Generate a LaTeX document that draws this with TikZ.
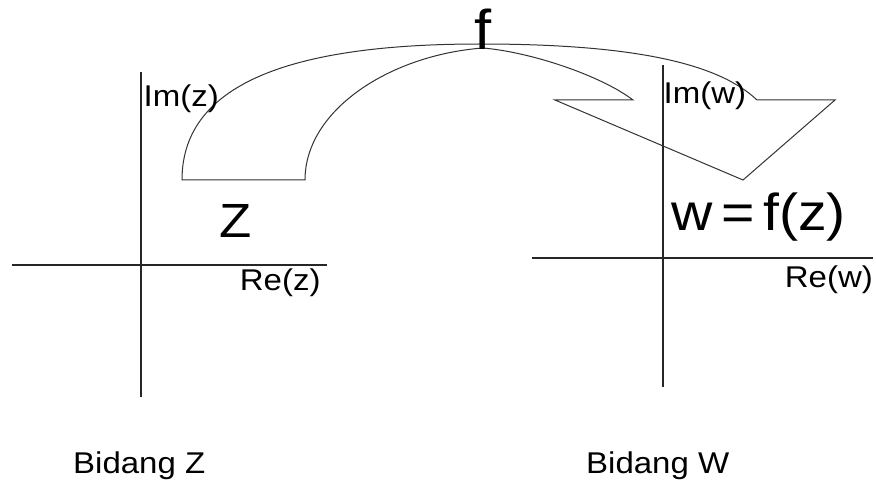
\documentclass[tikz,border=0pt]{standalone}
\usepackage{fontspec}
\setmainfont{Liberation Sans}[FakeStretch=1.1]
\begin{document}
\begin{tikzpicture}[x=1pt,y=-1pt,
  axis/.style={line width=1.1pt,draw=black!85},
  shapeline/.style={line width=1pt,draw=black!80,line join=miter},
  lbl/.style={inner sep=0pt,anchor=base west,font=\fontsize{30}{32}\selectfont},
  bigtxt/.style={inner sep=0pt,anchor=base west},
  captxt/.style={inner sep=0pt,anchor=base west,font=\fontsize{30}{32}\selectfont}]
\path[use as bounding box,fill=white] (0,0) rectangle (876,484);
% axes of the Z plane
\draw[axis] (12,265) -- (327,265);
\draw[axis] (141,72) -- (141,397);
% axes of the W plane
\draw[axis] (532,258) -- (873,258);
\draw[axis] (663,65) -- (663,387);
% curved mapping arrow
\draw[shapeline] (182,180) -- (305,180)
  .. controls (305,110) and (390,55) .. (483,48)
  .. controls (530,52) and (600,75) .. (633,100)
  -- (555,100) -- (743,180) -- (835,100) -- (757,100)
  .. controls (720,65) and (640,44) .. (480,44)
  .. controls (300,44) and (182,80) .. (182,180) -- cycle;
% labels
\node[lbl] (imz) at (143.5,107) {Im(z)};
\node[lbl] (rez) at (239.7,290) {Re(z)};
\node[lbl] (imw) at (663.5,104) {Im(w)};
\node[lbl] (rew) at (784.7,287) {Re(w)};
\node[bigtxt,font=\fontsize{48}{52}\selectfont] (zl) at (219,237) {Z};
\node[bigtxt,font=\fontsize{52}{58}\selectfont] (wf) at (671,230) {w\,=\,f(z)};
\node[bigtxt,font=\fontsize{56}{60}\selectfont] (f) at (474,50) {f};
\node[captxt] (bz) at (73,473) {Bidang Z};
\node[captxt] (bw) at (586,473) {Bidang W};
\end{tikzpicture}
\end{document}
